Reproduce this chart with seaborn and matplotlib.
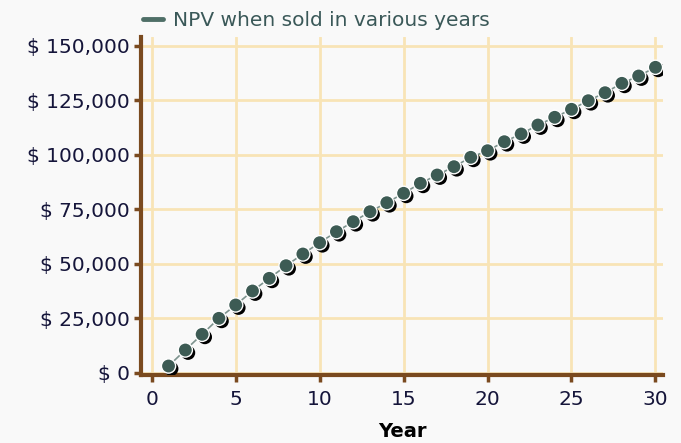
import matplotlib
matplotlib.use("Agg")
import matplotlib.pyplot as plt
import matplotlib.patheffects as pe
from matplotlib.lines import Line2D
from matplotlib.ticker import FuncFormatter
import seaborn as sns
import pandas as pd

# Net present value of the property if sold at the end of each year
years = list(range(1, 31))
npv = [3070, 10410, 17610, 24950, 31060, 37480, 43300, 49080, 54450, 59630,
       64680, 69270, 73850, 77980, 82290, 86880, 90690, 94500, 98810, 101830,
       105960, 109500, 113620, 117160, 120830, 124770, 128440, 132750, 136100, 140090]
x_ticks = [0, 5, 10, 15, 20, 25, 30]
y_ticks = [0, 25000, 50000, 75000, 100000, 125000, 150000]
series_label = "NPV when sold in various years"
x_label = "Year"

df = pd.DataFrame({"Year": years, "NPV": npv})

sns.set_theme(style="white")
plt.rcParams["font.family"] = ["DejaVu Sans"]

bg = "#f9f9f9"
brown = "#7a4a1f"
grid_c = "#f8e4b6"
mark_c = "#3d5b54"
line_c = "#4f6f67"
text_c = "#15153a"

fig = plt.figure(figsize=(6.81, 4.43), dpi=100, facecolor=bg)
ax = fig.add_axes([141 / 681, 1 - 375 / 443, (663 - 141) / 681, (375 - 37) / 443])
ax.set_facecolor(bg)

sns.lineplot(data=df, x="Year", y="NPV", ax=ax, color="#7d938e", lw=1.2,
             zorder=3, legend=False)
sns.scatterplot(data=df, x="Year", y="NPV", ax=ax, s=105, color=mark_c,
                edgecolor="white", linewidth=1.0, zorder=4, legend=False,
                path_effects=[pe.SimplePatchShadow(offset=(2.0, -2.0),
                                                   shadow_rgbFace="black",
                                                   alpha=1.0),
                              pe.Normal()])

ax.set_xlim(-0.64, 30.45)
ax.set_ylim(-1055, 153990)
ax.set_xticks(x_ticks)
ax.set_yticks(y_ticks)
ax.yaxis.set_major_formatter(FuncFormatter(lambda v, p: f"$ {int(v):,}"))

ax.grid(True, color=grid_c, lw=2.0, zorder=0)
ax.set_axisbelow(True)

for side in ("top", "right"):
    ax.spines[side].set_visible(False)
for side in ("left", "bottom"):
    ax.spines[side].set_color(brown)
    ax.spines[side].set_linewidth(3)

ax.tick_params(axis="both", which="major", direction="out", color=brown,
               width=2.5, length=5, labelsize=14.5, labelcolor=text_c,
               left=True, bottom=True)
ax.tick_params(axis="y", pad=3)
ax.tick_params(axis="x", pad=6)

ax.set_ylabel("")
ax.set_xlabel(x_label, fontsize=14, fontweight="bold", color="black", labelpad=9)

handle = Line2D([], [], color=line_c, lw=3.5)
fig.legend([handle], [series_label], loc="center left",
           bbox_to_anchor=(143 / 681, 1 - 20.5 / 443), frameon=False,
           fontsize=14.5, labelcolor="#3a5858", handlelength=1.0,
           handletextpad=0.5, borderpad=0, borderaxespad=0)

fig.savefig("out.png", dpi=100, facecolor=bg)
